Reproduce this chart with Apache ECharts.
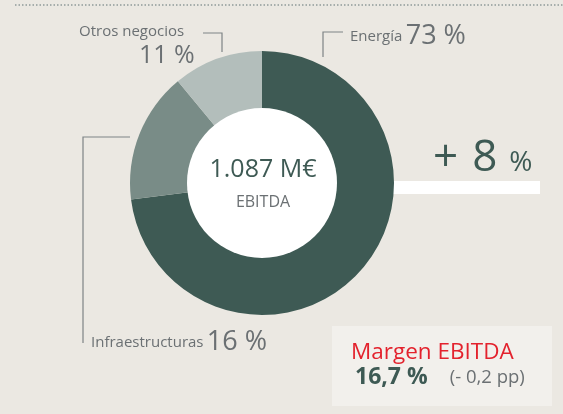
<!DOCTYPE html>
<html><head><meta charset="utf-8">
<script src="https://cdn.jsdelivr.net/npm/echarts@6/dist/echarts.min.js"></script>
<style>html,body{margin:0;padding:0;background:#ebe8e2}#c{width:563px;height:414px}</style>
</head><body><div id="c"></div>
<script>
var categories = ['Energía', 'Infraestructuras', 'Otros negocios'];
var shares = [73, 16, 11];
var colors = ['#3e5a54', '#798c87', '#b3bebb'];
var totalText = '1.087 M€';
var totalLabel = 'EBITDA';
var growth = '8';
var marginTitle = 'Margen EBITDA';
var marginValue = '16,7 %';
var marginDelta = '(- 0,2 pp)';

var F = '"Open Sans", "Noto Sans", sans-serif';
var grey = '#6b7073';
var chart = echarts.init(document.getElementById('c'), null, {renderer: 'canvas'});

function label(x, y, name, val, nameSize, valSize) {
  return {
    type: 'text', left: x, top: y,
    style: {
      text: '{n|' + name + '} {v|' + val + ' %}',
      rich: {
        n: {fontFamily: F, fontSize: nameSize, fill: grey},
        v: {fontFamily: F, fontSize: valSize, fill: grey}
      }
    }
  };
}
var line = function (pts) {
  return {type: 'polyline', shape: {points: pts}, style: {stroke: '#7e8385', lineWidth: 1.2, fill: null}, silent: true};
};

chart.setOption({
  backgroundColor: '#ebe8e2',
  animation: false,
  graphic: [
    {type: 'line', shape: {x1: 15, y1: 5, x2: 563, y2: 5}, style: {stroke: '#a6adab', lineWidth: 2, lineDash: [1.5, 2]}},
    {type: 'rect', shape: {x: 380, y: 181, width: 160, height: 13}, style: {fill: '#ffffff'}, z: -1},
    {type: 'rect', shape: {x: 332, y: 326, width: 220, height: 80}, style: {fill: '#f2f0ec'}},
    {type: 'text', left: 351, top: 341, style: {text: marginTitle, fontFamily: F, fontSize: 22.5, fill: '#e3222d'}},
    {type: 'text', left: 355, top: 366, style: {text: '{b|' + marginValue + '}{d|' + marginDelta + '}',
      rich: {b: {fontFamily: F, fontSize: 23, fontWeight: 'bold', fill: '#3e5a54'}, d: {fontFamily: F, fontSize: 18.5, fill: grey, padding: [0,0,0,22]}}}},
    line([[203, 33], [222, 33], [222, 52]]),
    line([[343, 32], [323, 32], [323, 57]]),
    line([[130, 137], [83, 137], [83, 343]]),
    {type: 'text', left: 79, top: 24, style: {text: categories[2], fontFamily: F, fontSize: 15, fill: grey}},
    {type: 'text', left: 139, top: 43, style: {text: shares[2] + ' %', fontFamily: F, fontSize: 25, fill: grey}},
    label(350, 23, categories[0], shares[0], 15, 27),
    label(91, 329, categories[1], shares[1], 15, 27),
    {type: 'text', left: 433, top: 136, style: {text: '{a|+}{e|' + growth + '}{p|%}',
      rich: {a: {fontFamily: F, fontSize: 44, fill: '#3e5a54'},
             e: {fontFamily: F, fontSize: 44, fill: '#3e5a54', padding: [0,0,0,14]},
             p: {fontFamily: F, fontSize: 28, fill: '#3e5a54', verticalAlign: 'bottom', padding: [0,0,3,12]}}}},
    {type: 'text', x: 263, y: 170, style: {text: totalText, fontFamily: F, fontSize: 25, fill: '#3e5a54', align: 'center', verticalAlign: 'middle'}, z: 10},
    {type: 'text', x: 263, y: 202, style: {text: totalLabel, fontFamily: F, fontSize: 16, fill: grey, align: 'center', verticalAlign: 'middle'}, z: 10}
  ],
  series: [{
    type: 'pie',
    center: [262, 183],
    radius: [0, 132],
    startAngle: 90,
    clockwise: true,
    label: {show: false},
    labelLine: {show: false},
    silent: true,
    itemStyle: {borderWidth: 0},
    data: categories.map(function (c, i) { return {name: c, value: shares[i], itemStyle: {color: colors[i]}}; })
  }, {
    type: 'pie', center: [262, 183], radius: [0, 75], silent: true,
    label: {show: false}, labelLine: {show: false}, z: 3,
    data: [{value: 1, itemStyle: {color: '#ffffff'}}]
  }]
});
</script></body></html>
